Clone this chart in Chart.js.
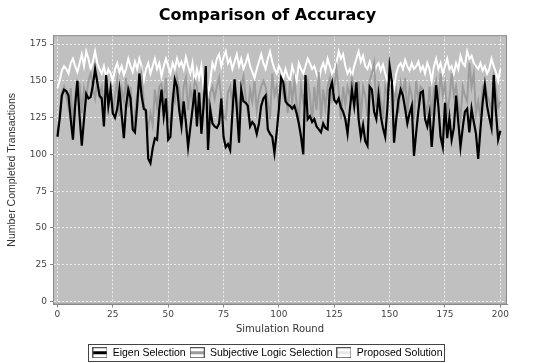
<!DOCTYPE html>
<html>
<head>
<meta charset="utf-8">
<script src="https://cdn.jsdelivr.net/npm/chart.js@4.4.1/dist/chart.umd.min.js"></script>
<style>
  html, body { margin: 0; padding: 0; background: #fff; }
  #wrap { width: 535px; height: 363px; }
</style>
</head>
<body>
<div id="wrap"><canvas id="accuracyChart" width="535" height="363"></canvas></div>
<script>
"use strict";

// Values, one per simulation round (0..200)
const seriesNames = ['Eigen Selection', 'Subjective Logic Selection', 'Proposed Solution'];
const xTicks = [0, 25, 50, 75, 100, 125, 150, 175, 200];
const yTicks = [0, 25, 50, 75, 100, 125, 150, 175];

const eigenValues = [
    112, 124, 140, 144, 143, 140, 124, 110, 133, 150,
    126, 106, 124, 141, 138, 139, 147, 158, 149, 140,
    138, 119, 154, 133, 144, 128, 125, 131, 144, 127,
    111, 133, 144, 138, 117, 115, 133, 155, 140, 131,
    130, 97, 94, 104, 111, 110, 131, 144, 126, 138,
    110, 112, 135, 151, 146, 130, 119, 136, 122, 105,
    118, 131, 144, 119, 142, 114, 133, 160, 103, 131,
    121, 119, 118, 121, 138, 112, 105, 107, 103, 128,
    151, 131, 108, 144, 136, 135, 133, 119, 122, 120,
    114, 121, 133, 138, 140, 117, 114, 112, 101, 115,
    131, 152, 149, 136, 134, 133, 131, 133, 128, 121,
    112, 100, 154, 124, 126, 122, 124, 119, 117, 115,
    121, 118, 117, 144, 149, 137, 135, 138, 132, 129,
    124, 114, 130, 144, 133, 149, 124, 112, 120, 109,
    106, 146, 144, 129, 124, 140, 126, 118, 112, 132,
    160, 150, 108, 124, 137, 144, 140, 131, 121, 128,
    133, 99, 115, 130, 142, 143, 124, 119, 128, 105,
    125, 147, 133, 112, 105, 135, 111, 125, 110, 118,
    140, 122, 105, 118, 129, 131, 115, 131, 122, 114,
    97, 117, 135, 147, 133, 125, 118, 154, 129, 110,
    116
];

const subjectiveValues = [
    115, 126, 142, 146, 140, 132, 145, 120, 140, 150,
    148, 128, 145, 138, 150, 155, 145, 138, 150, 140,
    146, 132, 152, 136, 148, 128, 140, 150, 126, 144,
    136, 152, 132, 146, 120, 128, 140, 146, 155, 135,
    124, 118, 128, 120, 144, 132, 146, 148, 136, 152,
    126, 120, 140, 136, 152, 144, 124, 146, 152, 130,
    145, 136, 150, 146, 134, 124, 140, 146, 132, 142,
    146, 138, 146, 152, 138, 126, 124, 142, 146, 134,
    144, 140, 128, 146, 153, 138, 128, 144, 136, 150,
    130, 140, 146, 150, 146, 136, 124, 155, 140, 146,
    132, 150, 140, 146, 128, 150, 136, 150, 134, 124,
    146, 136, 144, 150, 140, 122, 146, 130, 156, 124,
    144, 132, 146, 152, 138, 146, 158, 144, 124, 146,
    134, 146, 140, 152, 146, 136, 150, 124, 146, 140,
    126, 150, 155, 162, 132, 150, 136, 124, 146, 140,
    152, 150, 136, 144, 128, 148, 140, 152, 128, 146,
    140, 124, 150, 136, 146, 144, 134, 128, 146, 126,
    144, 150, 136, 155, 140, 148, 128, 138, 155, 140,
    146, 134, 124, 146, 140, 136, 162, 146, 155, 128,
    136, 124, 146, 148, 140, 136, 128, 152, 144, 132,
    136
];

const proposedValues = [
    145, 150, 157, 160, 158, 155, 162, 165, 160, 156,
    162, 168, 160, 170, 165, 158, 163, 170, 162, 158,
    155, 160, 152, 158, 155, 150, 158, 162, 156, 160,
    154, 158, 165, 160, 156, 163, 158, 165, 160, 150,
    158, 162, 155, 160, 165, 158, 162, 153, 160, 165,
    160, 155, 162, 158, 165, 160, 163, 158, 166, 160,
    155, 162, 148, 158, 152, 160, 145, 155, 140, 150,
    162, 158, 165, 168, 160, 166, 170, 162, 165, 158,
    163, 168, 160, 165, 158, 162, 167, 160, 156, 152,
    158, 163, 168, 162, 158, 165, 170, 163, 158, 155,
    160, 157, 152, 158, 153, 150, 160, 155, 150, 162,
    158, 155, 160, 165, 162, 158, 160, 155, 150, 158,
    162, 157, 165, 160, 155, 158, 162, 170, 165, 168,
    160, 155, 158, 153, 160, 165, 170, 163, 167, 160,
    158, 163, 158, 155, 160, 162, 157, 161, 155, 150,
    148, 152, 145, 155, 160, 162, 158, 164, 160, 157,
    162, 158, 160, 163, 157, 160, 155, 162, 158, 150,
    160, 165, 158, 162, 155, 160, 165, 158, 160, 155,
    162, 158, 167, 162, 160, 170, 165, 167, 162, 160,
    158, 162, 157, 160, 155, 158, 165, 160, 156, 150,
    158
];

const seriesColors = ['#000000', '#9c9c9c', '#ffffff'];

const toPoints = (values) => values.map((v, i) => ({x: i, y: v}));

// small legend swatch: bordered box with the line through it
const makeSwatch = (color) => {
    const c = document.createElement('canvas');
    c.width = 15;
    c.height = 11;
    const ctx = c.getContext('2d');
    ctx.fillStyle = '#ffffff';
    ctx.fillRect(0, 0, 15, 11);
    ctx.strokeStyle = '#555';
    ctx.lineWidth = 1;
    ctx.strokeRect(0.5, 0.5, 14, 10);
    ctx.strokeStyle = color === '#ffffff' ? '#e8e8e8' : color;
    ctx.lineWidth = 3;
    ctx.beginPath();
    ctx.moveTo(1, 5.5);
    ctx.lineTo(14, 5.5);
    ctx.stroke();
    return c;
};

const plotBackground = {
    id: 'plotBackground',
    beforeDraw: (chart) => {
        const a = chart.chartArea;
        const ctx = chart.ctx;
        ctx.save();
        ctx.fillStyle = '#c0c0c0';
        ctx.fillRect(a.left, a.top, a.right - a.left, a.bottom - a.top);
        ctx.restore();
    },
    afterDraw: (chart) => {
        const a = chart.chartArea;
        const ctx = chart.ctx;
        ctx.save();
        ctx.strokeStyle = '#8a8a8a';
        ctx.lineWidth = 1;
        ctx.strokeRect(a.left + 0.5, a.top + 0.5, a.right - a.left - 1, a.bottom - a.top - 1);
        // legend frame
        const boxes = chart.legend.legendHitBoxes;
        if (boxes && boxes.length) {
            let l = Infinity, r = -Infinity, t = Infinity, b = -Infinity;
            boxes.forEach((h) => {
                l = Math.min(l, h.left);
                r = Math.max(r, h.left + h.width);
                t = Math.min(t, h.top);
                b = Math.max(b, h.top + h.height);
            });
            ctx.strokeStyle = '#444';
            ctx.strokeRect(Math.round(l) - 3.5, Math.round(t) - 3.5, Math.round(r - l) + 6, Math.round(b - t) + 6);
        }
        ctx.restore();
    }
};

const chart = new Chart(document.getElementById('accuracyChart'), {
    type: 'line',
    data: {
        datasets: seriesNames.map((name, i) => ({
            label: name,
            data: toPoints([eigenValues, subjectiveValues, proposedValues][i]),
            borderColor: seriesColors[i],
            backgroundColor: seriesColors[i],
            borderWidth: i === 0 ? 2.2 : 2,
            pointRadius: 0,
            tension: 0,
            fill: false
        }))
    },
    options: {
        responsive: false,
        animation: false,
        layout: {padding: {left: 0, right: 0, top: 0, bottom: -5}},
        plugins: {
            title: {
                display: true,
                text: 'Comparison of Accuracy',
                color: '#000',
                font: {family: 'DejaVu Sans', size: 16, weight: 'bold'},
                padding: {top: 6, bottom: 10}
            },
            legend: {
                position: 'bottom',
                labels: {
                    usePointStyle: true,
                    pointStyleWidth: 15,
                    color: '#333',
                    font: {family: 'Liberation Sans', size: 10.5},
                    padding: 4,
                    generateLabels: (c) => c.data.datasets.map((ds, i) => ({
                        text: ds.label,
                        pointStyle: makeSwatch(seriesColors[i]),
                        fillStyle: seriesColors[i],
                        strokeStyle: '#555',
                        lineWidth: 0,
                        datasetIndex: i
                    }))
                }
            },
            tooltip: {enabled: false}
        },
        scales: {
            x: {
                type: 'linear',
                min: -2,
                max: 203,
                afterFit: (scale) => { scale.height = 39; },
                afterBuildTicks: (scale) => { scale.ticks = xTicks.map(v => ({value: v})); },
                ticks: {
                    color: '#444',
                    font: {family: 'DejaVu Sans', size: 9},
                    padding: 2,
                    maxRotation: 0
                },
                grid: {color: 'rgba(255,255,255,0.7)', tickColor: '#888', tickLength: 3, lineWidth: 1},
                border: {display: true, color: '#888', dash: [2, 2]},
                title: {
                    display: true,
                    text: 'Simulation Round',
                    color: '#333',
                    font: {family: 'DejaVu Sans', size: 10},
                    padding: {top: 2, bottom: 8}
                }
            },
            y: {
                type: 'linear',
                min: -2,
                max: 181,
                afterFit: (scale) => { scale.width = 53; },
                afterBuildTicks: (scale) => { scale.ticks = yTicks.map(v => ({value: v})); },
                ticks: {
                    color: '#444',
                    font: {family: 'DejaVu Sans', size: 9},
                    padding: 3
                },
                grid: {color: 'rgba(255,255,255,0.7)', tickColor: '#888', tickLength: 3, lineWidth: 1},
                border: {display: true, color: '#888', dash: [2, 2]},
                title: {
                    display: true,
                    text: 'Number Completed Transactions',
                    color: '#333',
                    font: {family: 'Liberation Sans', size: 10.5},
                    padding: {top: 6, bottom: 2}
                }
            },
            // empty right axis, only reserves the right margin so the title stays centred on the page
            yRight: {
                type: 'linear',
                position: 'right',
                display: true,
                afterFit: (scale) => { scale.width = 28; },
                grid: {display: false, drawTicks: false},
                border: {display: false},
                ticks: {display: false}
            }
        }
    },
    plugins: [plotBackground]
});
</script>
</body>
</html>
